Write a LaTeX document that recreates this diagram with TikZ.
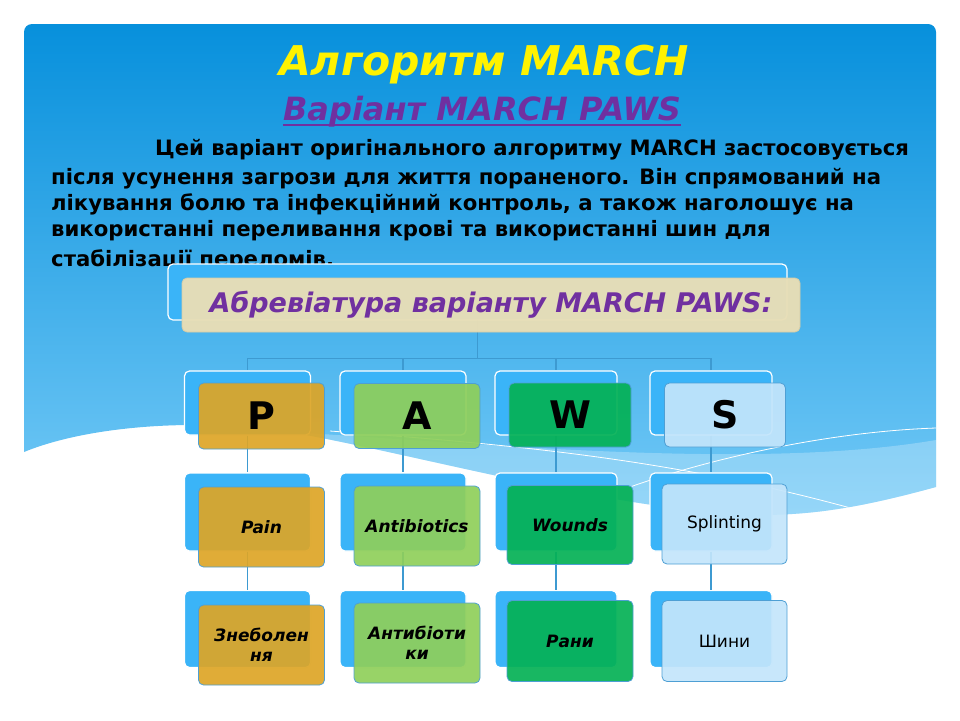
\documentclass[tikz,border=0pt]{standalone}
\usepackage{fontspec}
\setmainfont{DejaVu Sans}
\usetikzlibrary{positioning,calc}
\definecolor{slidetop}{HTML}{0790DC}
\definecolor{slidebot}{HTML}{74CAF7}
\definecolor{backblue}{HTML}{3AB4F8}
\definecolor{mybeige}{HTML}{E8DEB6}
\definecolor{mypurple}{HTML}{7030A0}
\definecolor{pgold}{HTML}{DDA526}
\definecolor{agreen}{HTML}{8FCF5A}
\definecolor{wgreen}{HTML}{04B155}
\definecolor{slight}{HTML}{C3E5FB}
\definecolor{connblue}{HTML}{3D9AD1}
\definecolor{rimblue}{HTML}{4E9FD4}

\tikzset{
  backbox/.style={draw=white, line width=1.2pt, fill=backblue, rounded corners=5pt, inner sep=0pt},
  frontbox/.style={draw=rimblue, line width=0.8pt, rounded corners=5pt, fill opacity=0.92,
    text opacity=1, inner sep=2pt, align=center},
  letter/.style={font=\bfseries\fontsize{38}{40}\selectfont},
  entry/.style={font=\bfseries\itshape\fontsize{17}{20}\selectfont},
  plain/.style={font=\fontsize{17}{20}\selectfont},
  conn/.style={draw=connblue, line width=1.3pt},
  paraline/.style={anchor=base west, inner sep=0pt, font=\bfseries\fontsize{21.2}{26}\selectfont},
}

\begin{document}
\begin{tikzpicture}[x=1pt, y=-1pt]
  \useasboundingbox (0,0) rectangle (960,720);

  % slide background with the wave
  \begin{scope}
    \clip (0,0) -- (960,0) -- (960,487) -- (936,487)
      .. controls (870,505) and (820,515) .. (760,515)
      .. controls (620,512) and (420,455) .. (290,432)
      .. controls (200,418) and (90,425) .. (24,452) -- (0,452) -- cycle;
    \shade[top color=slidetop, bottom color=slidebot, rounded corners=8pt] (24,24) rectangle (936,520);
    \fill[white, opacity=0.25] (290,432) .. controls (500,445) and (760,470) .. (936,440)
      -- (936,487) .. controls (870,505) and (820,515) .. (760,515)
      .. controls (620,512) and (420,455) .. (290,432) -- cycle;
    \draw[white, line width=0.8pt] (330,431) .. controls (520,445) and (680,460) .. (865,512);
    \draw[white, line width=0.8pt] (630,487) .. controls (700,462) and (820,432) .. (936,428);
  \end{scope}

  \node[anchor=base, inner sep=0pt, text=yellow, font=\bfseries\itshape\fontsize{41}{45}\selectfont]
    (title) at (484,75) {Алгоритм MARCH};
  \node[anchor=base, inner sep=0pt, text=mypurple, font=\bfseries\itshape\fontsize{32}{36}\selectfont]
    (subtitle) at (482,120) {Варіант MARCH PAWS};
  \draw[mypurple, line width=1.5pt] ([yshift=-5pt]subtitle.base west) -- ([yshift=-5pt]subtitle.base east);

  \node[paraline] (line1) at (155,155) {Цей варіант оригінального алгоритму MARCH застосовується};
  \node[paraline] (line2) at (51,184) {після усунення загрози для життя пораненого. Він спрямований на};
  \node[paraline] (line3) at (51,210) {лікування болю та інфекційний контроль, а також наголошує на};
  \node[paraline] (line4) at (51,236) {використанні переливання крові та використанні шин для};
  \node[paraline] (line5) at (51,266) {стабілізації переломів.};

  % abbreviation box and columns
  \node[backbox, minimum width=619, minimum height=56] (abbrb) at (477.5,292) {};
  \foreach \c/\x/\w in {p/247.5/126, a/403/126, w/556/122, s/711/122} {
    \node[backbox, minimum width=\w, minimum height=64] (\c1b) at (\x,403) {};
    \node[backbox, minimum width=\w, minimum height=78] (\c2b) at (\x,512) {};
    \node[backbox, minimum width=\w, minimum height=77] (\c3b) at (\x,629) {};
  }

  \foreach \c in {p,a,w,s} {
    \draw[conn] (abbrb.south) -- ++(0,38) -| (\c1b.north);
    \draw[conn] (\c1b.south) -- (\c2b.north);
    \draw[conn] (\c2b.south) -- (\c3b.north);
  }

  \node[frontbox, draw=mybeige!80!black!40!mybeige, fill=mybeige, fill opacity=0.97, minimum width=618, minimum height=54,
    text=mypurple, font=\bfseries\itshape\fontsize{27}{31}\selectfont] (abbr) at (491,305) {Абревіатура варіанту MARCH PAWS:};

  \node[frontbox, fill=pgold, minimum width=126, minimum height=66, letter] (p1) at (261.5,416) {P};
  \node[frontbox, fill=agreen, minimum width=126, minimum height=65, letter] (a1) at (417,416) {A};
  \node[frontbox, fill=wgreen, minimum width=122, minimum height=64, letter] (w1) at (570,415) {W};
  \node[frontbox, fill=slight, minimum width=121, minimum height=64, letter] (s1) at (725,415) {S};

  \node[frontbox, fill=pgold, minimum width=126, minimum height=80, entry] (p2) at (261.5,527) {Pain};
  \node[frontbox, fill=agreen, minimum width=126, minimum height=80, entry] (a2) at (417,526) {Antibiotics};
  \node[frontbox, fill=wgreen, minimum width=126, minimum height=79, entry] (w2) at (570,525) {Wounds};
  \node[frontbox, fill=slight, minimum width=125, minimum height=80, plain] (s2) at (724.5,524) {Splinting};

  \node[frontbox, fill=pgold, minimum width=126, minimum height=80, entry] (p3) at (261.5,645) {Знеболен\\ня};
  \node[frontbox, fill=agreen, minimum width=126, minimum height=80, entry] (a3) at (417,643) {Антибіоти\\ки};
  \node[frontbox, fill=wgreen, minimum width=126, minimum height=81, entry] (w3) at (570,641) {Рани};
  \node[frontbox, fill=slight, minimum width=125, minimum height=81, plain] (s3) at (724.5,641) {Шини};
\end{tikzpicture}
\end{document}
